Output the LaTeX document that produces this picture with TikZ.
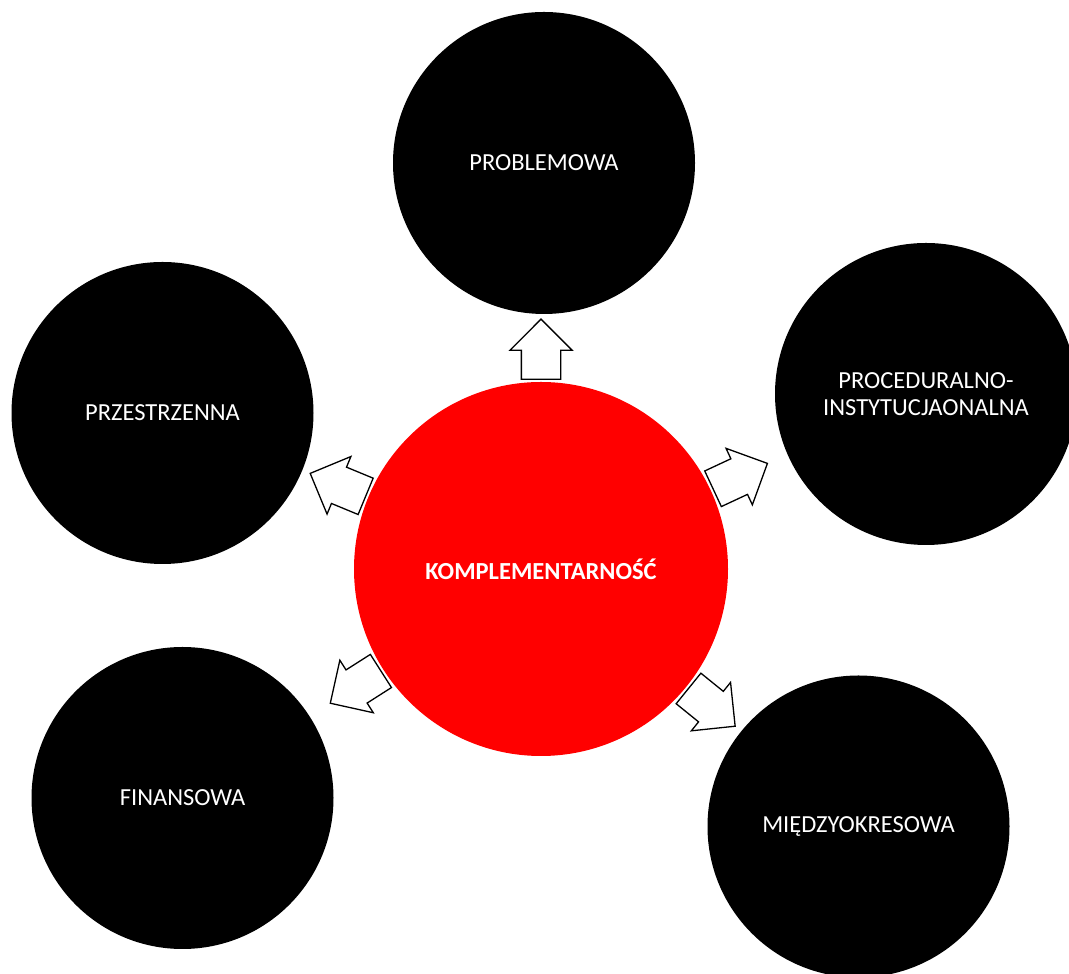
\documentclass[tikz,border=0pt]{standalone}
\usepackage{fontspec}
\setmainfont{Carlito}
\usetikzlibrary{shapes.arrows}

\tikzset{
	blob/.style={circle,fill=black,text=white,minimum size=302pt,inner sep=0pt,align=center,
		font=\fontsize{24.5}{27}\selectfont},
	hub/.style={circle,fill=red,text=white,minimum size=374pt,inner sep=0pt,
		font=\fontsize{24.5}{27}\selectfont\bfseries},
	blockarrow/.style={single arrow,draw=black,fill=white,line width=1.3pt,
		inner xsep=0pt,inner ysep=19pt,
		minimum height=60pt,single arrow head extend=11.5pt,
		single arrow tip angle=90}
}

\begin{document}
\begin{tikzpicture}[x=1pt,y=1pt]
	\useasboundingbox (0,0) rectangle (1069,974);
	% centre
	\node[hub] (kom) at (541,405) {KOMPLEMENTARNOŚĆ};
	% outer circles
	\node[blob] (prob) at (544,811) {PROBLEMOWA};
	\node[blob] (proc) at (926,580) {PROCEDURALNO-\\INSTYTUCJAONALNA};
	\node[blob] (miedzy) at (858.5,147.5) {MIĘDZYOKRESOWA};
	\node[blob] (fin) at (182.5,176) {FINANSOWA};
	\node[blob] (przes) at (162.5,561) {PRZESTRZENNA};
	% block arrows
	\foreach \a/\n in {90/prob,25/proc,-39/miedzy,212.5/fin,157.5/przes}
		\node[blockarrow,rotate=\a] (ar-\n) at ([shift={(\a:210pt)}]kom.center) {};
\end{tikzpicture}
\end{document}
